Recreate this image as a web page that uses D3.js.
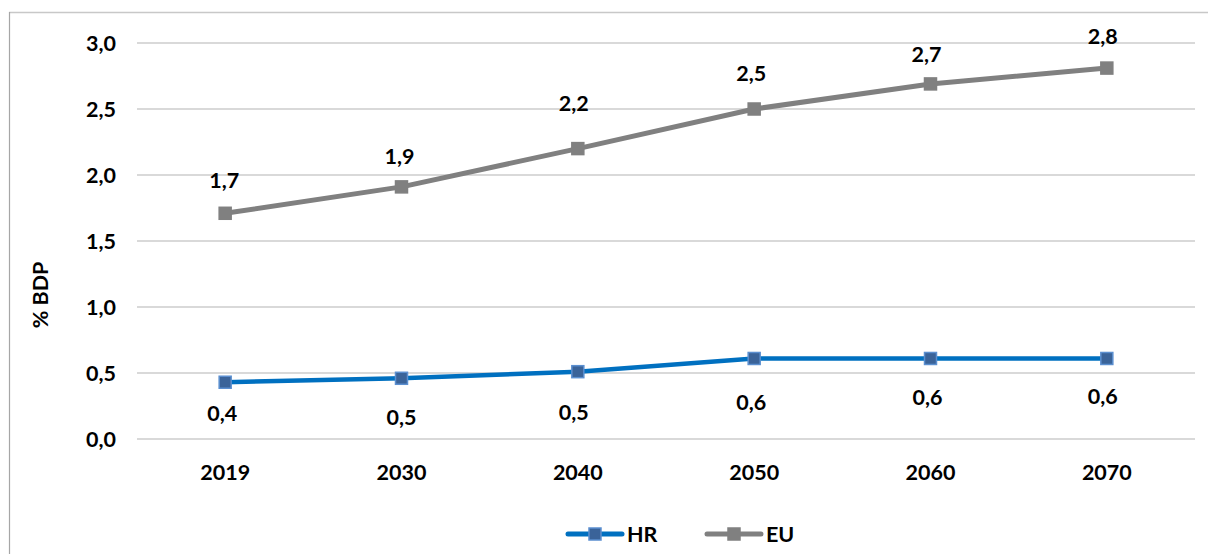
<!DOCTYPE html>
<html>
<head>
<meta charset="utf-8">
<script src="https://cdn.jsdelivr.net/npm/d3@7"></script>
<style>
  html, body { margin: 0; padding: 0; background: #fff; }
  svg { display: block; }
  text { font-family: Lato, "Open Sans", sans-serif; font-weight: bold; fill: #000; }
</style>
</head>
<body>
<svg id="chart" width="1208" height="554"></svg>
<script>
// Years on the horizontal axis
const years = ["2019", "2030", "2040", "2050", "2060", "2070"];
// Series values, % of GDP
const hrValues = [0.43, 0.46, 0.51, 0.61, 0.61, 0.61];
const euValues = [1.71, 1.91, 2.2, 2.5, 2.69, 2.81];
// Vertical axis ticks
const yTicks = [0, 0.5, 1, 1.5, 2, 2.5, 3];

// Label nudges (px) for each data label, relative to its point
const hrLabelOffsets = [[-3, 31], [0, 39], [-4, 41], [-3, 44], [-3, 39], [-4, 38]];
const euLabelOffsets = [[-1, -33], [-2, -30], [-4, -45], [-3, -36], [-4, -29], [-4, -32]];

const FS = 21.5;
const svg = d3.select("#chart");
const fmt = v => d3.format(".1f")(v).replace(".", ",");

const plot = { left: 137, right: 1195, top: 43, bottom: 439 };

const x = d3.scaleBand().domain(years).range([plot.left, plot.right]);
const y = d3.scaleLinear().domain([0, 3]).range([plot.bottom, plot.top]);
const cx = d => x(d) + x.bandwidth() / 2;

// Outer frame (top and left edges)
svg.append("line").attr("x1", 9).attr("x2", 1208).attr("y1", 12.5).attr("y2", 12.5)
  .attr("stroke", "#c8c8c8").attr("stroke-width", 1.5);
svg.append("line").attr("x1", 9.5).attr("x2", 9.5).attr("y1", 12).attr("y2", 554)
  .attr("stroke", "#a6a6a6").attr("stroke-width", 1.2);

// Horizontal gridlines
svg.append("g").selectAll("line").data(yTicks).join("line")
  .attr("x1", plot.left).attr("x2", plot.right)
  .attr("y1", d => y(d)).attr("y2", d => y(d))
  .attr("stroke", "#d9d9d9").attr("stroke-width", 2);

// Y axis labels
const yAxis = d3.axisLeft(y).tickValues(yTicks).tickFormat(fmt).tickSize(0).tickPadding(0);
const gy = svg.append("g").attr("transform", "translate(116,0)").call(yAxis);
gy.select(".domain").remove();
gy.selectAll("text").attr("font-size", FS).attr("font-family", "Lato, sans-serif")
  .attr("font-weight", "bold").attr("fill", "#000").attr("dy", "0.35em");

// X axis labels
const xAxis = d3.axisBottom(x).tickSize(0).tickPadding(0);
const gx = svg.append("g").attr("transform", "translate(0,472)").call(xAxis);
gx.select(".domain").remove();
gx.selectAll("text").attr("font-size", FS).attr("font-family", "Lato, sans-serif")
  .attr("font-weight", "bold").attr("fill", "#000").attr("dy", "0.35em");

// Y axis title
svg.append("text")
  .attr("transform", "translate(40,295) rotate(-90)")
  .attr("text-anchor", "middle").attr("dy", "0.35em")
  .attr("font-size", FS).text("% BDP");

const line = d3.line().x((d, i) => cx(years[i])).y(d => y(d));

function drawSeries(values, color, width, markerFill, markerStroke, offsets) {
  const g = svg.append("g");
  g.append("path").datum(values)
    .attr("d", line).attr("fill", "none")
    .attr("stroke", color).attr("stroke-width", width)
    .attr("stroke-linejoin", "round");
  const s = 12;
  g.selectAll("rect").data(values).join("rect")
    .attr("x", (d, i) => cx(years[i]) - s / 2)
    .attr("y", d => y(d) - s / 2)
    .attr("width", s).attr("height", s)
    .attr("fill", markerFill).attr("stroke", markerStroke).attr("stroke-width", 1.5);
  g.selectAll("text").data(values).join("text")
    .attr("x", (d, i) => cx(years[i]) + offsets[i][0])
    .attr("y", (d, i) => y(d) + offsets[i][1])
    .attr("text-anchor", "middle").attr("dy", "0.35em")
    .attr("font-size", FS).text(d => fmt(d));
}

drawSeries(euValues, "#808080", 5, "#808080", "#808080", euLabelOffsets);
drawSeries(hrValues, "#0070c0", 4.5, "#3a6399", "#5b8fd0", hrLabelOffsets);

// Legend
const legend = svg.append("g").attr("transform", "translate(0,534)");
const items = [
  { name: "HR", color: "#0070c0", fill: "#3a6399", stroke: "#5b8fd0", x0: 568 },
  { name: "EU", color: "#808080", fill: "#808080", stroke: "#808080", x0: 707 }
];
items.forEach(it => {
  legend.append("line").attr("x1", it.x0).attr("x2", it.x0 + 54)
    .attr("y1", 0).attr("y2", 0)
    .attr("stroke", it.color).attr("stroke-width", 5).attr("stroke-linecap", "round");
  legend.append("rect").attr("x", it.x0 + 27 - 6).attr("y", -6)
    .attr("width", 12).attr("height", 12)
    .attr("fill", it.fill).attr("stroke", it.stroke).attr("stroke-width", 1.5);
  legend.append("text").attr("x", it.x0 + 59).attr("y", 0).attr("dy", "0.35em")
    .attr("font-size", FS).text(it.name);
});
</script>
</body>
</html>
